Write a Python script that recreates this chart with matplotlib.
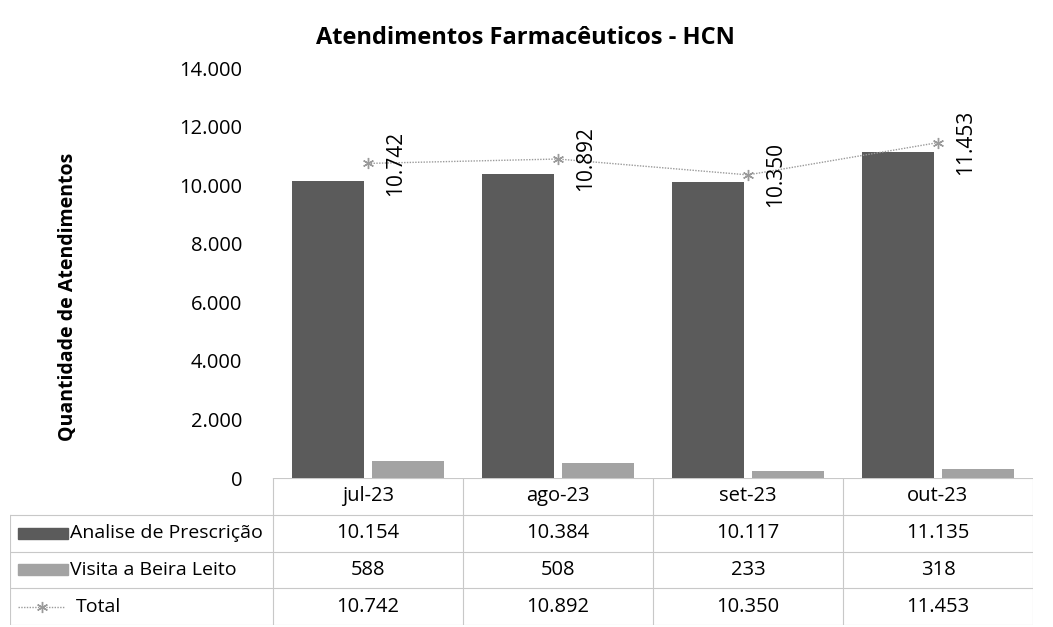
import matplotlib.pyplot as plt
from matplotlib.patches import Rectangle
from matplotlib.ticker import FuncFormatter

meses = ['jul-23', 'ago-23', 'set-23', 'out-23']
analise = [10154, 10384, 10117, 11135]
visita = [588, 508, 233, 318]
total = [10742, 10892, 10350, 11453]
series_nomes = ['Analise de Prescrição', 'Visita a Beira Leito', 'Total']
yticks = [0, 2000, 4000, 6000, 8000, 10000, 12000, 14000]

cor_escura = '#5b5b5b'
cor_clara = '#a3a3a3'
cor_linha = '#9a9a9a'
cor_grade = '#c8c8c8'


def fmt(v):
    return f'{int(v):,}'.replace(',', '.')


W, H = 1053, 627
fig = plt.figure(figsize=(W / 100, H / 100), dpi=100)
plt.rcParams['font.family'] = ['Open Sans', 'DejaVu Sans']

# pixel layout
px_left, px_right = 273, 1033
px_top, px_bottom = 68, 478
ax = fig.add_axes([px_left / W, 1 - px_bottom / H,
                   (px_right - px_left) / W, (px_bottom - px_top) / H])

x = list(range(len(meses)))
ax.bar([i - 0.21 for i in x], analise, width=0.38, color=cor_escura)
ax.bar([i + 0.21 for i in x], visita, width=0.38, color=cor_clara)
ax.plot(x, total, color=cor_linha, lw=1, ls=(0, (1, 1)),
        marker=(6, 2, 0), ms=8, mec=cor_linha)
for i, v in zip(x, total):
    ax.annotate(fmt(v), (i, v), xytext=(20, 0), textcoords='offset points',
                rotation=90, ha='center', va='center', fontsize=15)

ax.set_xlim(-0.5, len(meses) - 0.5)
ax.set_ylim(0, 14000)
ax.set_yticks(yticks)
ax.yaxis.set_major_formatter(FuncFormatter(lambda v, p: fmt(v)))
ax.tick_params(axis='y', length=0, pad=22, labelsize=14.5)
ax.set_xticks([])
for s in ax.spines.values():
    s.set_visible(False)

fig.text(525 / W, 1 - 38 / H, 'Atendimentos Farmacêuticos - HCN',
         ha='center', va='center', fontsize=17, fontweight='bold')
fig.text(68 / W, 1 - 297 / H, 'Quantidade de Atendimentos', rotation=90,
         ha='center', va='center', fontsize=14, fontweight='bold')

# data table
tb_left, tb_top, tb_bottom = 10, 478, 625
tax = fig.add_axes([tb_left / W, 1 - tb_bottom / H,
                    (px_right - tb_left) / W, (tb_bottom - tb_top) / H])
unit = (px_right - px_left) / len(meses)
x0 = -0.5 - (px_left - tb_left) / unit
tax.set_xlim(x0, len(meses) - 0.5)
tax.set_ylim(4, 0)
tax.axis('off')

lw = 0.8
tax.plot([-0.5, len(meses) - 0.5], [0, 0], color=cor_grade, lw=lw)
for r in range(1, 5):
    tax.plot([x0, len(meses) - 0.5], [r, r], color=cor_grade, lw=lw)
tax.plot([x0, x0], [1, 4], color=cor_grade, lw=lw)
for c in range(len(meses) + 1):
    tax.plot([c - 0.5, c - 0.5], [0, 4], color=cor_grade, lw=lw)

for i, m in enumerate(meses):
    tax.text(i, 0.5, m, ha='center', va='center', fontsize=14.5)
linhas = [analise, visita, total]
for r, vals in enumerate(linhas, start=1):
    for i, v in enumerate(vals):
        tax.text(i, r + 0.5, fmt(v), ha='center', va='center', fontsize=14.5)

key_w = 50 / unit
kx = x0 + 8 / unit
tax.add_patch(Rectangle((kx, 1.35), key_w, 0.3, color=cor_escura))
tax.add_patch(Rectangle((kx, 2.35), key_w, 0.3, color=cor_clara))
tax.plot([kx, kx + key_w * 0.95], [3.5, 3.5], color=cor_linha, lw=1, ls=(0, (1, 1)))
tax.plot([kx + key_w * 0.48], [3.5], color=cor_linha, marker=(6, 2, 0), ms=8)
for r, nome in enumerate(series_nomes, start=1):
    tx = kx + key_w + 2 / unit if r < 3 else kx + key_w + 8 / unit
    tax.text(tx, r + 0.5, nome, ha='left', va='center', fontsize=14)

fig.savefig('out.png', dpi=100)
